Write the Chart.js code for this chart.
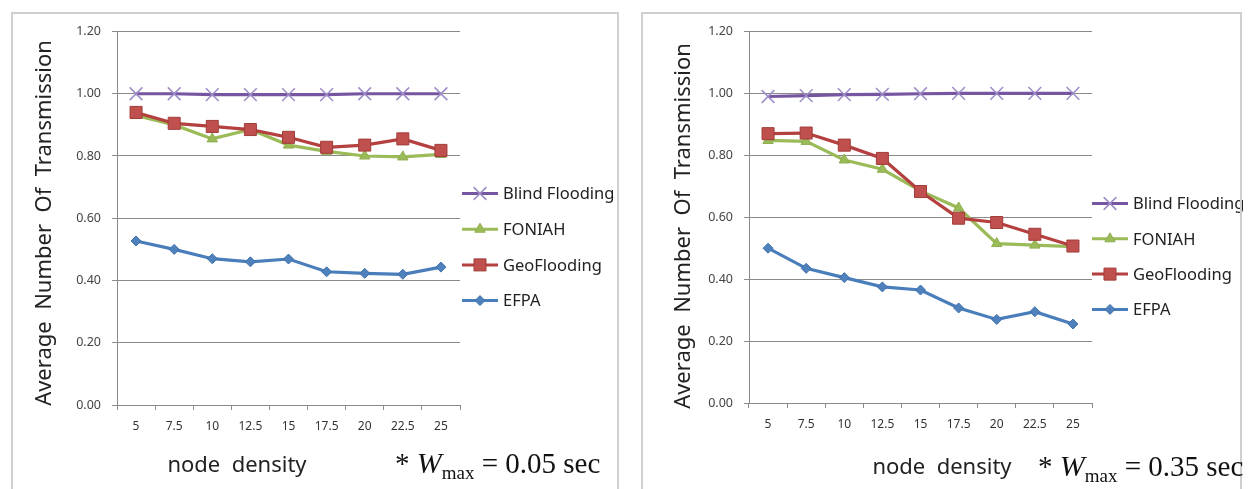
<!DOCTYPE html>
<html>
<head>
<meta charset="utf-8">
<script src="https://cdn.jsdelivr.net/npm/chart.js@4.4.0/dist/chart.umd.min.js"></script>
<style>
    body { margin: 0; width: 1254px; height: 489px; overflow: hidden; background: #fff; position: relative; font-family: "Noto Sans", sans-serif; }
    .panel { position: absolute; top: 12px; height: 490px; border: 2px solid #cfcfcf; box-sizing: border-box; pointer-events: none; }
    .box { position: absolute; top: 13px; width: 606px; height: 476px; }
    .ytitle { position: absolute; font-size: 22px; color: #222; white-space: pre; transform: translate(-50%, -50%) rotate(-90deg); }
    .xtitle { position: absolute; font-size: 22px; color: #222; white-space: pre; transform: translate(-50%, -50%); }
    .note { position: absolute; font-family: "Liberation Serif", "Times New Roman", serif; font-size: 29px; color: #111; white-space: nowrap; }
    .note i { font-size: 30px; }
    .note sub { font-size: 19px; vertical-align: -6px; }
</style>
</head>
<body>
<div class="box" style="left:10px"><canvas id="chart-a"></canvas></div>
<div class="box" style="left:640px"><canvas id="chart-b"></canvas></div>
<div class="panel" style="left:11px; width:608px"></div>
<div class="panel" style="left:641px; width:601px"></div>

<div class="ytitle" style="left:42px; top:223px">Average  Number  Of  Transmission</div>
<div class="ytitle" style="left:681px; top:226px">Average  Number  Of  Transmission</div>
<div class="xtitle" style="left:237px; top:463px">node  density</div>
<div class="xtitle" style="left:942px; top:465px">node  density</div>
<div class="note" style="left:395px; top:446px">* <i>W</i><sub>max</sub> = 0.05 sec</div>
<div class="note" style="left:1038px; top:449px">* <i>W</i><sub>max</sub> = 0.35 sec</div>

<script>
// node density categories
const densities = ['5', '7.5', '10', '12.5', '15', '17.5', '20', '22.5', '25'];
const seriesNames = ['Blind Flooding', 'FONIAH', 'GeoFlooding', 'EFPA'];

// Wmax = 0.05 sec
const blindA = [1.00, 1.00, 0.997, 0.997, 0.997, 0.997, 1.00, 1.00, 1.00];
const foniahA = [0.93, 0.90, 0.855, 0.885, 0.835, 0.815, 0.80, 0.797, 0.805];
const geoA = [0.94, 0.905, 0.895, 0.885, 0.86, 0.828, 0.835, 0.855, 0.818];
const efpaA = [0.527, 0.50, 0.47, 0.46, 0.469, 0.428, 0.423, 0.42, 0.443];

// Wmax = 0.35 sec
const blindB = [0.99, 0.993, 0.996, 0.997, 0.999, 1.00, 1.00, 1.00, 1.00];
const foniahB = [0.848, 0.845, 0.785, 0.755, 0.685, 0.63, 0.515, 0.51, 0.505];
const geoB = [0.87, 0.872, 0.833, 0.79, 0.683, 0.597, 0.583, 0.545, 0.507];
const efpaB = [0.50, 0.435, 0.405, 0.375, 0.365, 0.307, 0.27, 0.295, 0.255];

const yTicks = [0, 0.2, 0.4, 0.6, 0.8, 1.0, 1.2];

const styles = [
    { line: '#7656a0', fill: '#a897cf', stroke: '#9d8cc8', pointStyle: 'crossRot', radius: 9, pw: 1.5 },
    { line: '#9bbb59', fill: '#9bbb59', stroke: '#8fae4f', pointStyle: 'triangle', radius: 6, pw: 1 },
    { line: '#b4413f', fill: '#c0504d', stroke: '#a23c3a', pointStyle: 'rect', radius: 8.5, pw: 1 },
    { line: '#4a7ebb', fill: '#4f81bd', stroke: '#3f70aa', pointStyle: 'rectRot', radius: 5, pw: 1 }
];

// draws legend entries as line + marker like Excel does
const lineLegend = {
    id: 'lineLegend',
    afterDraw(chart, args, opts) {
        const ctx = chart.ctx;
        const area = chart.chartArea;
        ctx.save();
        chart.data.datasets.forEach((ds, i) => {
            const st = styles[i];
            const y = area.top + opts.top + i * opts.gap;
            const x0 = area.right + opts.dx;
            ctx.strokeStyle = st.line;
            ctx.lineWidth = 3;
            ctx.beginPath();
            ctx.moveTo(x0, y);
            ctx.lineTo(x0 + 36, y);
            ctx.stroke();
            ctx.fillStyle = st.fill;
            ctx.strokeStyle = st.stroke;
            ctx.lineWidth = st.pw;
            Chart.helpers.drawPoint(ctx, { pointStyle: st.pointStyle, radius: st.radius, rotation: 0, borderWidth: st.pw }, x0 + 18, y);
            ctx.fillStyle = '#222';
            ctx.font = '16.5px "Noto Sans"';
            ctx.textBaseline = 'middle';
            ctx.fillText(ds.label, x0 + 41, y + 1);
        });
        ctx.restore();
    }
};

function makeChart(id, series, pad, legendOpts) {
    const datasets = series.map((vals, i) => ({
        label: seriesNames[i],
        data: vals,
        borderColor: styles[i].line,
        borderWidth: 3.2,
        backgroundColor: styles[i].fill,
        pointStyle: styles[i].pointStyle,
        pointRadius: styles[i].radius,
        pointBackgroundColor: styles[i].fill,
        pointBorderColor: styles[i].stroke,
        pointBorderWidth: styles[i].pw,
        tension: 0
    }));
    // draw EFPA first, blind flooding last like the original stacking
    datasets.forEach((d, i) => { d.order = -i; });

    return new Chart(document.getElementById(id), {
        type: 'line',
        data: { labels: densities, datasets: datasets },
        options: {
            responsive: true,
            maintainAspectRatio: false,
            animation: false,
            layout: { padding: pad },
            plugins: {
                legend: { display: false },
                tooltip: { enabled: false },
                lineLegend: legendOpts
            },
            scales: {
                x: {
                    offset: true,
                    grid: { offset: true, drawOnChartArea: false, color: '#8a8a8a', tickLength: 5 },
                    border: { color: '#8a8a8a', width: 1 },
                    ticks: { color: '#333', font: { family: 'Noto Sans', size: 12 }, padding: 9, maxRotation: 0 },
                    afterFit(scale) { scale.height = 40; }
                },
                y: {
                    min: 0,
                    max: 1.2,
                    afterBuildTicks(scale) { scale.ticks = yTicks.map(v => ({ value: v })); },
                    grid: { color: '#8a8a8a', lineWidth: 1, tickLength: 5 },
                    border: { color: '#8a8a8a', width: 1 },
                    ticks: {
                        color: '#444',
                        font: { family: 'Noto Sans', size: 12.5 },
                        padding: 11,
                        callback: v => v.toFixed(2)
                    },
                    afterFit(scale) { scale.width = 60; }
                }
            }
        },
        plugins: [lineLegend]
    });
}

makeChart('chart-a', [blindA, foniahA, geoA, efpaA],
    { left: 47, right: 156, top: 17, bottom: 44 },
    { top: 162, gap: 35.7, dx: 2 });
makeChart('chart-b', [blindB, foniahB, geoB, efpaB],
    { left: 49, right: 154, top: 15, bottom: 46 },
    { top: 172, gap: 35.3, dx: 0 });
</script>
</body>
</html>
